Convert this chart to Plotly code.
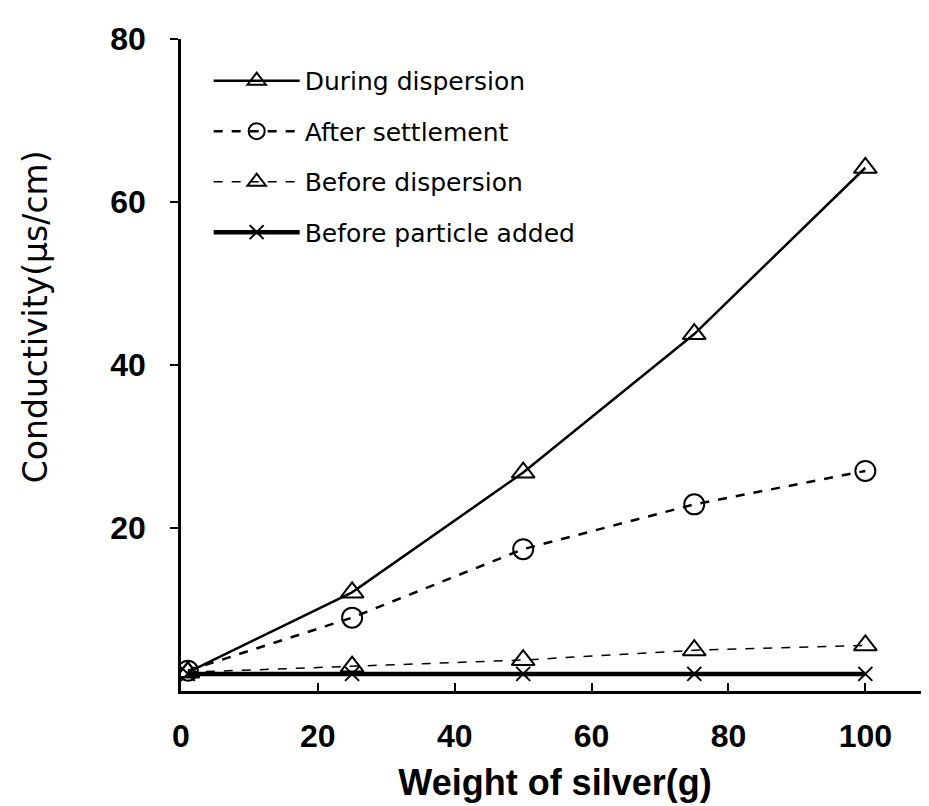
import plotly.graph_objects as go

weights = [1, 25, 50, 75, 100]
during_dispersion = [2.3, 12.1, 26.8, 43.8, 64.2]
after_settlement = [2.5, 9.0, 17.4, 22.9, 27.0]
before_dispersion = [2.3, 3.0, 3.8, 5.0, 5.6]
before_particle = [2.1, 2.1, 2.1, 2.1, 2.1]

x_ticks = [0, 20, 40, 60, 80, 100]
y_ticks = [20, 40, 60, 80]

fig = go.Figure()

series = [
    ("During dispersion", during_dispersion, "solid", 2.5, "triangle-up-open", 20),
    ("After settlement", after_settlement, "dash", 2.5, "circle-open", 20),
    ("Before dispersion", before_dispersion, "dash", 1.5, "triangle-up-open", 20),
    ("Before particle added", before_particle, "solid", 4.5, "x-thin-open", 14),
]

for i, (name, vals, dash, lw, sym, ms) in enumerate(series):
    fig.add_trace(go.Scatter(
        x=weights, y=vals, name=name, mode="lines+markers",
        line=dict(color="black", width=lw, dash=dash),
        marker=dict(symbol=sym, size=ms, color="black",
                    line=dict(color="black", width=2)),
        legendgroup=f"g{i}",
    ))

fig.update_layout(
    width=929, height=806,
    paper_bgcolor="white", plot_bgcolor="white",
    margin=dict(l=173, r=8, t=31, b=123, autoexpand=False),
    showlegend=True,
    legend=dict(
        x=0.037, y=0.971, xanchor="left", yanchor="top",
        font=dict(family="DejaVu Sans", size=25, color="black"),
        bgcolor="rgba(0,0,0,0)", tracegroupgap=15, itemwidth=86,
    ),
    xaxis=dict(
        range=[0, 109.3], tickvals=x_ticks, ticktext=[str(v) for v in x_ticks],
        showgrid=False, zeroline=False, showline=True, linecolor="black", linewidth=2.5,
        ticks="inside", ticklen=8, tickwidth=1.5, tickcolor="black", automargin=False,
        tickfont=dict(family="Liberation Sans, Arial", size=32, color="black", weight="bold"),
        ticklabelstandoff=15,
        title=dict(text="Weight of silver(g)", standoff=17,
                   font=dict(family="Liberation Sans, Arial", size=36, color="black", weight="bold")),
    ),
    yaxis=dict(
        range=[0, 80], tickvals=y_ticks, ticktext=[str(v) for v in y_ticks],
        showgrid=False, zeroline=False, showline=True, linecolor="black", linewidth=2.5,
        ticks="outside", ticklen=8, tickwidth=1.5, tickcolor="black", automargin=False,
        tickfont=dict(family="Liberation Sans, Arial", size=32, color="black", weight="bold"),
        ticklabelstandoff=18,
    ),
    annotations=[dict(
        text="Conductivity(μs/cm)", textangle=-90,
        xref="paper", yref="paper", x=-0.1946, y=0.574,
        xanchor="center", yanchor="middle", showarrow=False,
        font=dict(family="DejaVu Sans", size=33, color="black"),
    )],
)

fig.write_html("out.html")
